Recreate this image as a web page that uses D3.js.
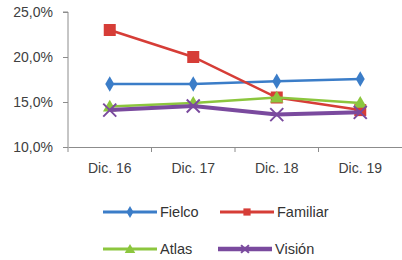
<!DOCTYPE html>
<html>
<head>
<meta charset="utf-8">
<script src="https://cdn.jsdelivr.net/npm/d3@7"></script>
<style>
  body { margin: 0; background: #fff; }
  svg { font-family: "Liberation Sans", Arial, sans-serif; }
</style>
</head>
<body>
<svg id="chart" width="402" height="260"></svg>
<script>
const categories = ['Dic. 16', 'Dic. 17', 'Dic. 18', 'Dic. 19'];
const fielco = [17.0, 17.0, 17.3, 17.55];
const familiar = [23.0, 20.0, 15.5, 14.1];
const atlas = [14.5, 14.9, 15.5, 14.9];
const vision = [14.1, 14.55, 13.6, 13.85];
const yTicks = [10, 15, 20, 25];

const series = [
  { name: 'Fielco', values: fielco, color: '#3b7dc8', marker: 'diamond', width: 2.5 },
  { name: 'Familiar', values: familiar, color: '#d63d37', marker: 'square', width: 2.5 },
  { name: 'Atlas', values: atlas, color: '#8cc63e', marker: 'triangle', width: 2.5 },
  { name: 'Visión', values: vision, color: '#7a4a9e', marker: 'cross', width: 4 }
];

const margin = { top: 12, left: 68 };
const svg = d3.select('#chart');

const x = d3.scaleBand().domain(categories).range([68, 402]);
const y = d3.scaleLinear().domain([10, 25]).range([147, 12]);

// y axis
const yAxis = svg.append('g')
  .attr('transform', `translate(${margin.left},0)`)
  .call(d3.axisLeft(y).tickValues(yTicks).tickSize(5).tickPadding(10)
    .tickFormat(d => d3.format('.1f')(d).replace('.', ',') + '%'));
yAxis.select('.domain').attr('stroke', '#8c8c8c').attr('d', `M-5,${y(25)}H0V${y(10)}`);
yAxis.selectAll('.tick line').attr('stroke', '#8c8c8c');
yAxis.selectAll('.tick text').attr('fill', '#404040').style('font-size', '14px');

// x axis
const xAxis = svg.append('g')
  .attr('transform', `translate(0,${y(10)})`)
  .call(d3.axisBottom(x).tickSize(0).tickPadding(16));
xAxis.select('.domain').attr('stroke', '#8c8c8c');
xAxis.selectAll('.tick text').attr('fill', '#404040').style('font-size', '14px');
xAxis.selectAll('.sep')
  .data(categories)
  .enter().append('line')
  .attr('x1', d => x(d)).attr('x2', d => x(d))
  .attr('y1', 0).attr('y2', 5)
  .attr('stroke', '#8c8c8c');

const cx = d => x(d) + x.bandwidth() / 2;

function drawMarker(g, type, color, px, py, scale) {
  const s = scale || 1;
  if (type === 'diamond') {
    g.append('path').attr('d', d3.symbol(d3.symbolDiamond, 70 * s)())
      .attr('transform', `translate(${px},${py})`).attr('fill', color);
  } else if (type === 'square') {
    const w = 12 * s;
    g.append('rect').attr('x', px - w / 2).attr('y', py - w / 2)
      .attr('width', w).attr('height', w).attr('fill', color);
  } else if (type === 'triangle') {
    g.append('path').attr('d', d3.symbol(d3.symbolTriangle, 80 * s)())
      .attr('transform', `translate(${px},${py + 1})`).attr('fill', color);
  } else {
    const r = 6.5 * s;
    g.append('path')
      .attr('d', `M${px - r},${py - r}L${px + r},${py + r}M${px - r},${py + r}L${px + r},${py - r}`)
      .attr('stroke', color).attr('stroke-width', 2);
  }
}

const line = d3.line().x((d, i) => cx(categories[i])).y(d => y(d));

series.forEach(s => {
  const g = svg.append('g');
  g.append('path').datum(s.values)
    .attr('d', line).attr('fill', 'none')
    .attr('stroke', s.color).attr('stroke-width', s.width);
  s.values.forEach((v, i) => drawMarker(g, s.marker, s.color, cx(categories[i]), y(v)));
});

// legend
const legendPos = [[103, 212], [220, 212], [103, 249], [218, 249]];
series.forEach((s, i) => {
  const [lx, ly] = legendPos[i];
  const g = svg.append('g');
  g.append('line').attr('x1', lx).attr('x2', lx + 54).attr('y1', ly).attr('y2', ly)
    .attr('stroke', s.color).attr('stroke-width', s.width + 0.5);
  drawMarker(g, s.marker, s.color, lx + 27, ly, 0.6);
  g.append('text').attr('x', lx + 57).attr('y', ly + 5)
    .attr('fill', '#333').style('font-size', '14.5px').text(s.name);
});
</script>
</body>
</html>
